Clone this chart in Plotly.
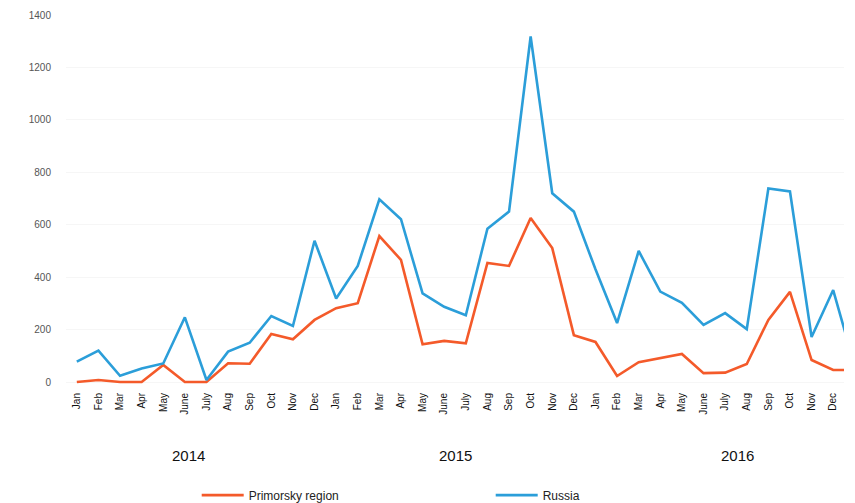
import plotly.graph_objects as go

# Month tick labels (36 shown) for 2014-2016
months = ["Jan", "Feb", "Mar", "Apr", "May", "June", "July", "Aug", "Sep", "Oct", "Nov", "Dec"]
tick_labels = months * 3
years = ["2014", "2015", "2016"]

# Series values (last value is the cut-off next month at the chart edge)
primorsky = [0, 8, 0, 0, 65, 0, 0, 72, 70, 183, 163, 237,
             282, 301, 557, 466, 144, 157, 148, 454, 443, 626, 511, 179,
             153, 23, 76, 92, 107, 34, 36, 69, 237, 344, 84, 46,
             46]
russia = [78, 120, 24, 52, 71, 247, 8, 116, 150, 252, 214, 539,
          319, 443, 697, 621, 338, 287, 255, 585, 650, 1318, 720, 650,
          430, 225, 500, 345, 302, 218, 263, 202, 738, 727, 172, 351,
          60]

x_idx = list(range(len(russia)))
tick_idx = list(range(len(tick_labels)))
year_pos = [5.15, 17.5, 30.56]

fig = go.Figure()
fig.add_trace(go.Scatter(x=x_idx, y=primorsky, mode="lines", name="Primorsky region",
                         line=dict(color="#f45a2a", width=2.6)))
fig.add_trace(go.Scatter(x=x_idx, y=russia, mode="lines", name="Russia",
                         line=dict(color="#2b9ed9", width=2.6)))

for yr, xp in zip(years, year_pos):
    fig.add_annotation(x=xp, y=0, xref="x", yref="paper", yshift=-80,
                       text=yr, showarrow=False,
                       font=dict(family="Liberation Sans, Arial", size=15, color="#111"))

fig.update_layout(
    width=847, height=495,
    margin=dict(l=58, r=11, t=7, b=117, autoexpand=False),
    paper_bgcolor="white", plot_bgcolor="white",
    showlegend=True,
    legend=dict(orientation="h", x=0.168, xanchor="left", y=-0.255, yanchor="top",
                itemwidth=42, entrywidth=237, entrywidthmode="pixels",
                font=dict(family="Liberation Sans, Arial", size=12, color="#222"),
                traceorder="normal"),
    font=dict(family="Liberation Sans, Arial"),
)
fig.update_xaxes(range=[-0.5, 35.5], tickmode="array", tickvals=tick_idx, ticktext=tick_labels,
                 tickangle=-90, showgrid=False, zeroline=False, showline=False,
                 tickfont=dict(size=10, color="#111"), ticks="", ticklabelstandoff=4)
fig.update_yaxes(range=[-15, 1400], tickmode="array", tickvals=[0, 200, 400, 600, 800, 1000, 1200, 1400],
                 showgrid=True, gridcolor="#f6f6f6", zeroline=False, showline=False,
                 tickfont=dict(size=10, color="#555"), ticks="", ticklabelstandoff=14)

fig.write_html("out.html")
